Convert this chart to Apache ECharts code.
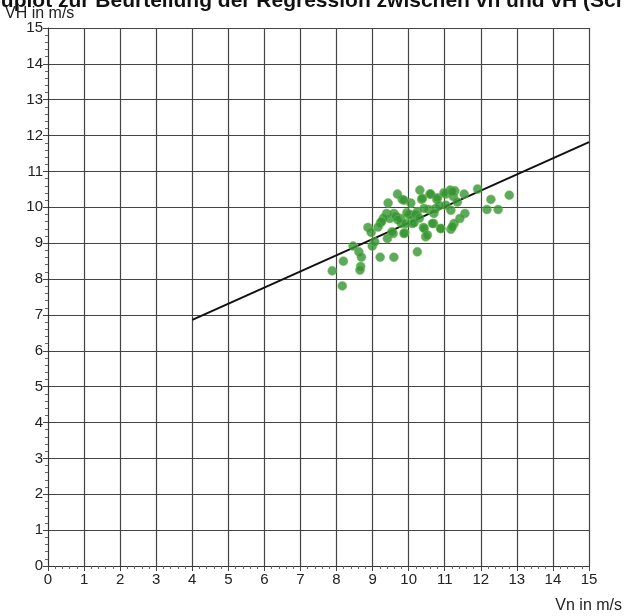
<!DOCTYPE html>
<html>
<head>
<meta charset="utf-8">
<script src="https://cdn.jsdelivr.net/npm/echarts@6/dist/echarts.min.js"></script>
<style>
  html, body { margin: 0; padding: 0; background: #ffffff; }
  #chart { width: 624px; height: 616px; }
</style>
</head>
<body>
<div id="chart"></div>
<script>
// Measured wind speeds: Vn (x) against VH (y), in m/s
const vn = [
  7.88, 8.16, 8.19, 8.46, 8.62, 8.69, 8.67, 8.65, 8.99, 9.06,
  9.21, 9.59, 10.24, 8.87, 8.96, 9.22, 9.41, 9.57, 9.43, 9.39,
  9.48, 9.69, 9.82, 9.89, 9.80, 10.06, 10.01, 10.10, 10.31, 10.36,
  10.24, 10.41, 10.47, 10.59, 10.78, 10.69, 10.89, 10.56, 10.75, 11.03,
  11.15, 11.28, 11.24, 11.54, 11.91, 12.28, 12.79, 12.17, 12.48, 11.56,
  11.42, 11.26, 11.17, 11.03, 11.17, 9.87, 10.38, 10.61, 10.80, 10.98,
  11.21, 10.43, 10.70, 9.59, 9.78, 10.06, 9.92, 10.15, 10.43, 10.52,
  10.66, 10.89, 11.21, 9.54, 9.87, 9.30, 9.25, 9.65, 9.95, 10.20,
  10.85, 9.70, 9.15, 10.30, 11.35
];
const vh = [
  8.23, 7.81, 8.50, 8.92, 8.76, 8.61, 8.35, 8.25, 8.92, 9.04,
  8.61, 8.61, 8.76, 9.44, 9.30, 9.57, 9.13, 9.27, 10.12, 9.83,
  9.69, 10.37, 10.22, 9.29, 9.55, 10.12, 9.79, 9.55, 10.48, 10.22,
  9.88, 9.44, 9.18, 10.37, 10.22, 9.55, 9.41, 9.94, 9.97, 10.37,
  10.48, 10.46, 10.30, 10.37, 10.51, 10.22, 10.34, 9.94, 9.94, 9.83,
  9.69, 9.55, 9.39, 10.06, 9.92, 10.20, 10.25, 10.37, 10.27, 10.41,
  10.44, 9.97, 9.83, 9.83, 9.69, 9.79, 9.55, 9.57, 9.41, 9.23,
  9.55, 9.41, 9.46, 9.32, 9.27, 9.70, 9.60, 9.75, 9.85, 9.80,
  10.05, 9.65, 9.45, 9.70, 10.15
];

// Fitted regression line endpoints
const fitX = [4, 15];
const fitY = [6.86, 11.82];

const axisTicks = [0, 1, 2, 3, 4, 5, 6, 7, 8, 9, 10, 11, 12, 13, 14, 15];

const font = 'Liberation Sans';
const chart = echarts.init(document.getElementById('chart'), null, { renderer: 'canvas' });

const axisCommon = {
  type: 'value',
  min: axisTicks[0],
  max: axisTicks[axisTicks.length - 1],
  interval: 1,
  axisLine: { show: true, onZero: false, lineStyle: { color: '#333', width: 1 } },
  axisTick: { show: true, inside: false, length: 5, lineStyle: { color: '#444' } },
  minorTick: { show: true, splitNumber: 5, length: 3, lineStyle: { color: '#666' } },
  splitLine: { show: true, lineStyle: { color: '#444', width: 1.2 } },
  axisLabel: { color: '#222', fontFamily: font, fontSize: 15 }
};

chart.setOption({
  animation: false,
  backgroundColor: '#ffffff',
  grid: { left: 48, right: 35, top: 28, bottom: 50, containLabel: false },
  xAxis: Object.assign({}, axisCommon, {
    axisLabel: Object.assign({}, axisCommon.axisLabel, { margin: 6 })
  }),
  yAxis: Object.assign({}, axisCommon, {
    axisLabel: Object.assign({}, axisCommon.axisLabel, { margin: 5 })
  }),
  graphic: [
    {
      type: 'text', left: -40, top: -9,
      style: {
        text: 'Streuplot zur Beurteilung der Regression zwischen vn und vH (Schätzung)',
        font: 'bold 21px ' + font, fill: '#111'
      }
    },
    {
      type: 'text', left: 5, top: 6,
      style: { text: 'VH in m/s', font: '16px ' + font, fill: '#222' }
    },
    {
      type: 'text', right: 2, top: 598,
      style: { text: 'Vn in m/s', font: '16px ' + font, fill: '#222' }
    }
  ],
  series: [
    {
      type: 'line',
      data: fitX.map((x, i) => [x, fitY[i]]),
      symbol: 'none',
      lineStyle: { color: '#111', width: 2 },
      z: 3
    },
    {
      type: 'scatter',
      data: vn.map((x, i) => [x, vh[i]]),
      symbolSize: 9,
      itemStyle: {
        color: '#349434',
        borderColor: 'rgba(120,190,80,0.6)',
        borderWidth: 1
      },
      z: 4
    }
  ]
});
</script>
</body>
</html>
